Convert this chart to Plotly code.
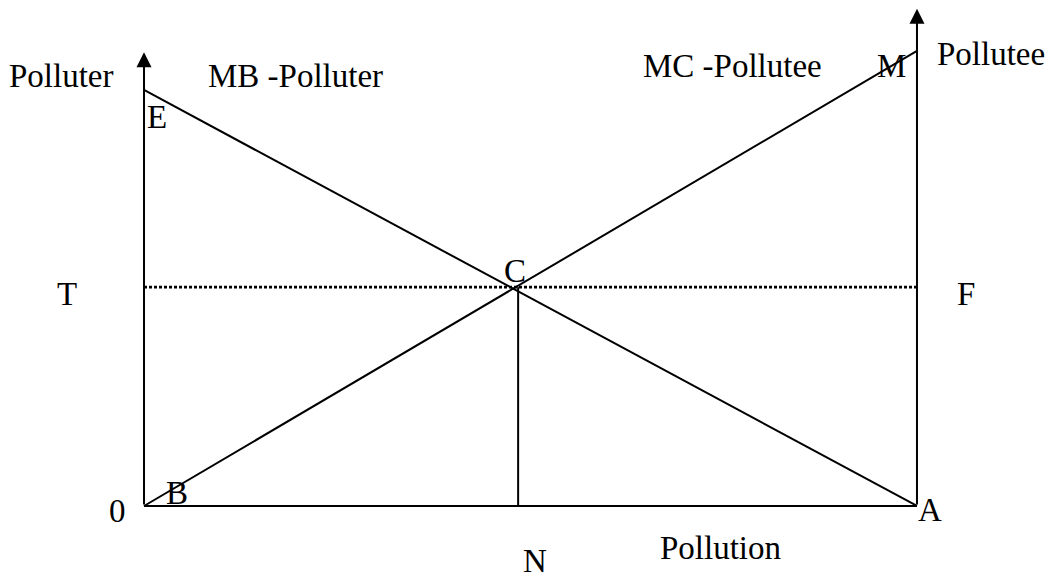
import plotly.graph_objects as go

# ---- data (model units: pollution 0..100 on x, value on y) ----
pollution_range = [0, 100]          # left axis (0) to right axis (A)
mb_polluter = [100, 0]              # E -> A
mc_pollutee = [0, 109.4]            # B -> M
left_axis_top = 109.1
right_axis_top = 119.5
n_x = 48.4                          # optimal pollution N
t_level = 52.6                      # price level T-F through C

BLACK = "black"
FONT = dict(family="Liberation Serif, Times New Roman, serif", size=33, color=BLACK)

fig = go.Figure()

# bottom axis
fig.add_trace(go.Scatter(x=pollution_range, y=[0, 0], mode="lines",
                         line=dict(color=BLACK, width=2), hoverinfo="skip"))
# MB polluter line
fig.add_trace(go.Scatter(x=pollution_range, y=mb_polluter, mode="lines",
                         line=dict(color=BLACK, width=2), hoverinfo="skip"))
# MC pollutee line
fig.add_trace(go.Scatter(x=pollution_range, y=mc_pollutee, mode="lines",
                         line=dict(color=BLACK, width=2), hoverinfo="skip"))
# dotted T-F line
fig.add_trace(go.Scatter(x=pollution_range, y=[t_level, t_level], mode="lines",
                         line=dict(color=BLACK, width=2.6, dash="3px,2px"), hoverinfo="skip"))
# vertical C-N
fig.add_trace(go.Scatter(x=[n_x, n_x], y=[0, t_level], mode="lines",
                         line=dict(color=BLACK, width=2), hoverinfo="skip"))

annotations = []
# axis arrows
for xv, top in [(pollution_range[0], left_axis_top), (pollution_range[1], right_axis_top)]:
    annotations.append(dict(x=xv, y=top, ax=xv, ay=0, xref="x", yref="y",
                            axref="x", ayref="y", showarrow=True, arrowhead=2,
                            arrowsize=1.5, arrowwidth=2, arrowcolor=BLACK, text=""))

labels = [
    ("Polluter", -10.67, 103.4),
    ("MB -Polluter", 19.66, 103.4),
    ("MC -Pollutee", 76.07, 105.8),
    ("M", 96.64, 105.8),
    ("Pollutee", 109.57, 108.7),
    ("E", 1.68, 93.5),
    ("C", 48.0, 56.5),
    ("T", -9.96, 50.96),
    ("F", 106.34, 50.96),
    ("0", -3.49, -1.2),
    ("B", 4.27, 3.1),
    ("A", 101.68, -0.96),
    ("Pollution", 74.64, -10.1),
    ("N", 50.58, -13.3),
]
for txt, lx, ly in labels:
    annotations.append(dict(x=lx, y=ly, xref="x", yref="y", text=txt, showarrow=False,
                            xanchor="center", yanchor="middle", borderpad=0, font=FONT))

fig.update_layout(
    width=1048, height=580,
    margin=dict(l=0, r=0, t=0, b=0),
    paper_bgcolor="white", plot_bgcolor="white",
    showlegend=False,
    xaxis=dict(range=[-18.63, 116.95], visible=False, fixedrange=True),
    yaxis=dict(range=[-17.79, 121.63], visible=False, fixedrange=True),
    annotations=annotations,
)

fig.write_html("out.html", config=dict(displayModeBar=False),
               post_script="document.body.style.margin='0';document.body.style.overflow='hidden';")
